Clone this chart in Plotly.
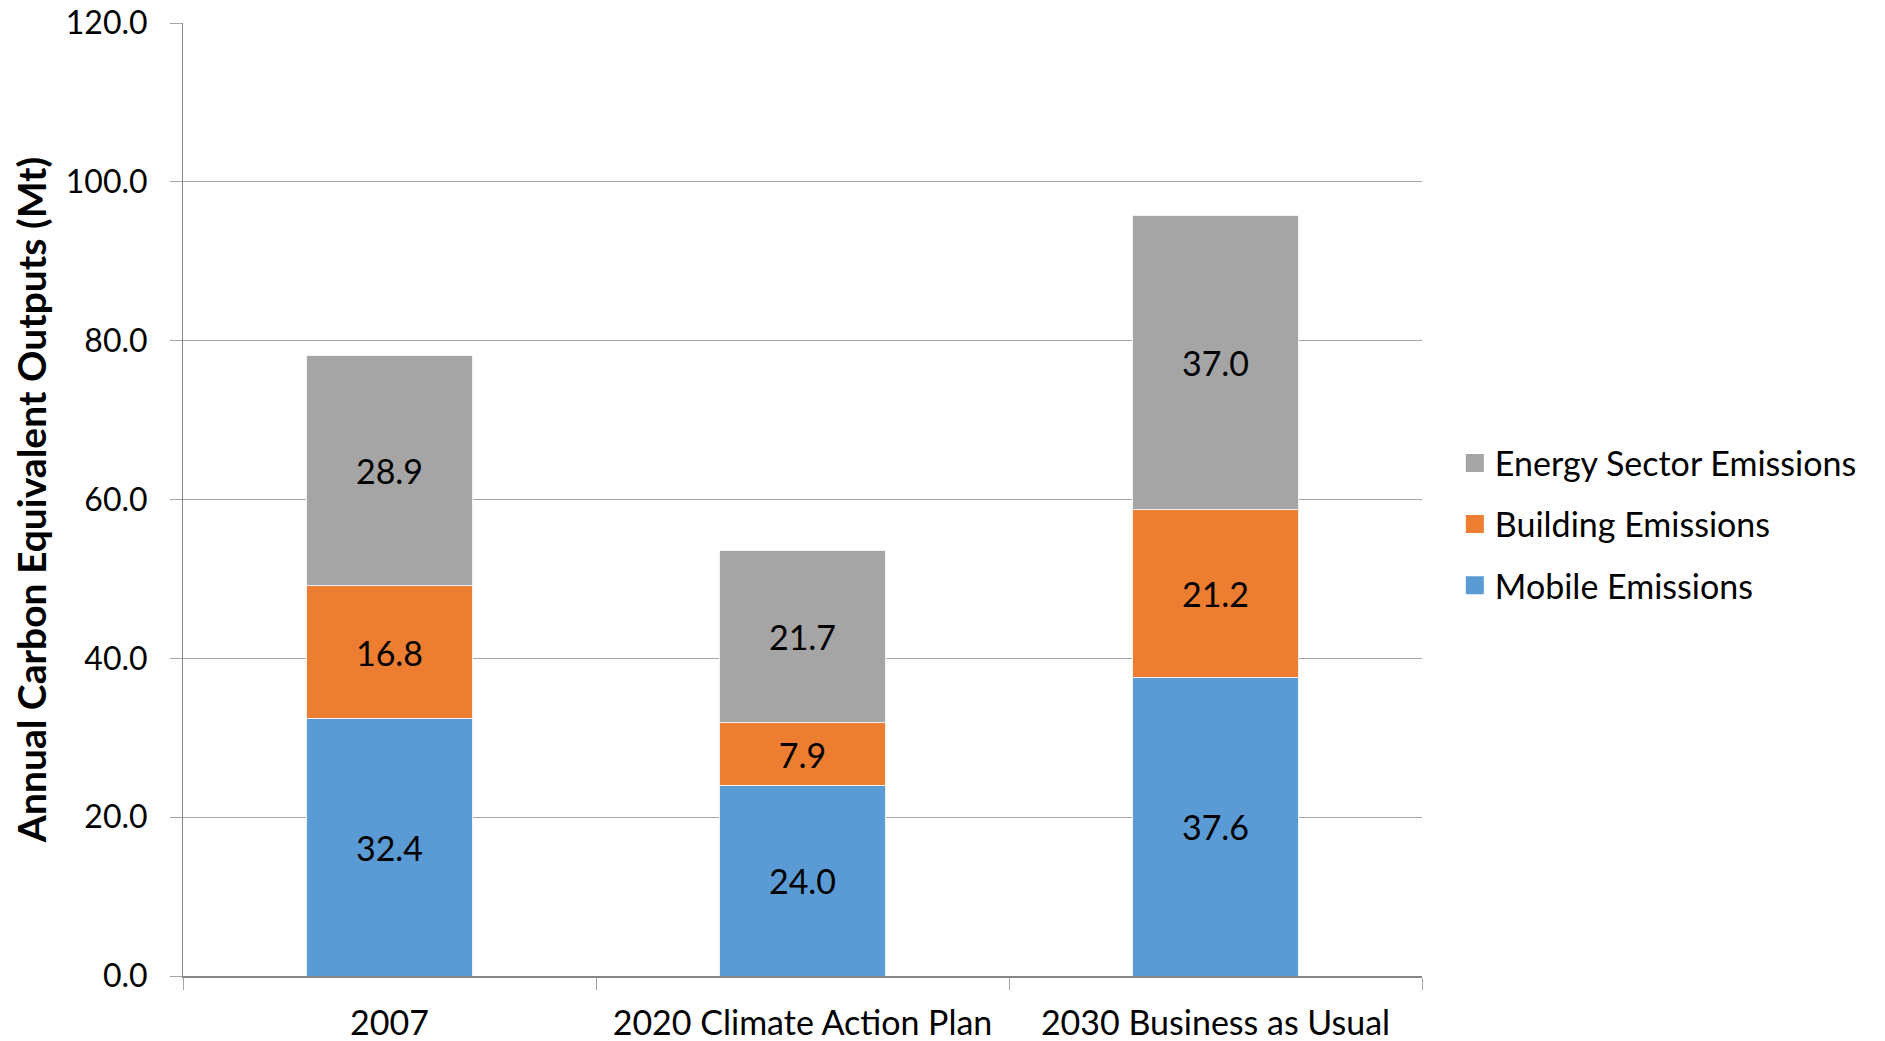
import plotly.graph_objects as go

categories = ["2007", "2020 Climate Action Plan", "2030 Business as Usual"]
mobile = [32.4, 24.0, 37.6]
building = [16.8, 7.9, 21.2]
energy = [28.9, 21.7, 37.0]
series_names = ["Mobile Emissions", "Building Emissions", "Energy Sector Emissions"]
colors = ["#5B9BD5", "#ED7D31", "#A5A5A5"]
y_ticks = [0, 20, 40, 60, 80, 100, 120]

FONT = "Lato, 'Open Sans', sans-serif"

fig = go.Figure()
for name, vals, col in zip(series_names, [mobile, building, energy], colors):
    fig.add_trace(go.Bar(
        name=name, x=categories, y=vals,
        marker=dict(color=col, line=dict(color="#F2F2F2", width=1)),
        texttemplate="%{y:.1f}", textposition="inside", insidetextanchor="middle",
        textfont=dict(color="black", size=34, family=FONT),
        constraintext="none", showlegend=False,
    ))

# legend entries (square swatches), top to bottom: Energy, Building, Mobile
for name, col in reversed(list(zip(series_names, colors))):
    fig.add_trace(go.Scatter(
        name=name, x=[categories[0]], y=[None], mode="markers",
        marker=dict(symbol="square", size=20, color=col, line=dict(color=col, width=2)),
        legendgroup=name, showlegend=True, hoverinfo="skip",
    ))

# page body has an 8px margin, so the figure is sized/offset to fit the 1885x1041 window
fig.update_layout(
    barmode="stack", bargap=0.6,
    width=1877, height=1033,
    margin=dict(l=175, r=463, t=15, b=65, autoexpand=False),
    plot_bgcolor="white", paper_bgcolor="white",
    font=dict(family=FONT, size=32, color="black"),
    legend=dict(x=1.0265, y=0.474, xanchor="left", yanchor="middle",
                traceorder="grouped", tracegroupgap=14, itemwidth=30,
                font=dict(size=34, family=FONT, color="black")),
    showlegend=True,
)
fig.update_yaxes(
    range=[0, 120.02], tickvals=y_ticks, tickformat=".1f", automargin=False,
    ticklabeloverflow="allow",
    showgrid=True, gridcolor="#A6A6A6", gridwidth=1,
    showline=True, linecolor="#868686", linewidth=1,
    ticks="outside", ticklen=12, tickcolor="#A6A6A6",
    ticklabelstandoff=16, zeroline=False,
    tickfont=dict(size=32),
    title=dict(text="<b>Annual Carbon Equivalent Outputs (Mt)</b>",
               font=dict(size=39, family=FONT, color="black"), standoff=12),
)
fig.update_xaxes(
    showline=True, linecolor="#868686", linewidth=2, automargin=False,
    ticklabeloverflow="allow",
    ticks="outside", ticklen=12, tickcolor="#A6A6A6", tickson="boundaries",
    ticklabelstandoff=16, tickfont=dict(size=34),
)

fig.write_html("out.html")
